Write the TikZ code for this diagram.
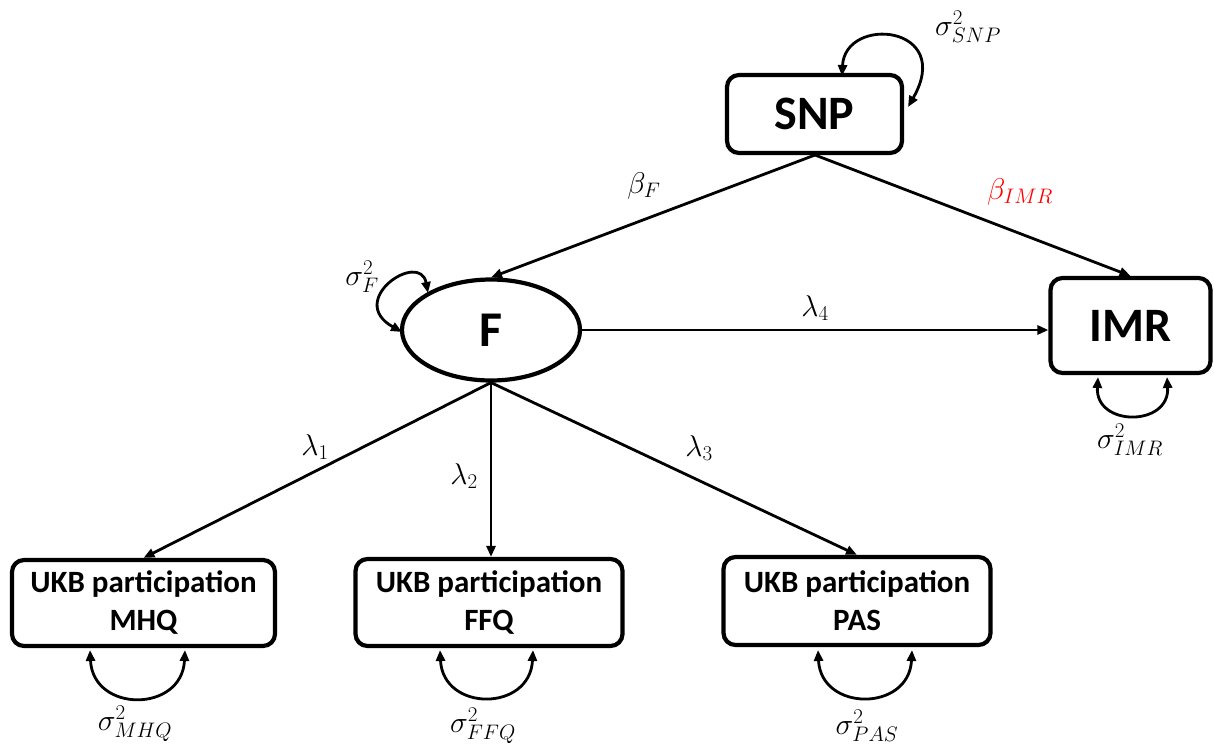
\RequirePackage{fix-cm}
\documentclass[tikz,border=0pt]{standalone}
\usepackage{fontspec}
\setmainfont{Carlito}
\usetikzlibrary{arrows.meta,shapes.geometric}
\tikzset{
  obsbox/.style={draw, line width=4.2pt, rounded corners=12pt, inner sep=0pt, align=center},
  bigtxt/.style={font=\fontsize{48}{56}\selectfont\bfseries},
  smalltxt/.style={font=\fontsize{31}{38}\selectfont\bfseries},
  latent/.style={draw, ellipse, line width=4.2pt, inner sep=0pt, minimum width=178pt, minimum height=101pt, font=\fontsize{50}{56}\selectfont\bfseries},
  path/.style={line width=2.8pt, -{Triangle[length=11pt,width=9pt]}},
  var/.style={line width=2.8pt, {Triangle[length=11pt,width=9pt]}-{Triangle[length=11pt,width=9pt]}},
  lab/.style={font=\fontsize{30}{34}\selectfont, inner sep=0pt}
}
\begin{document}
\begin{tikzpicture}[x=1pt,y=-1pt]
\useasboundingbox (0,0) rectangle (1214,751);
% nodes
\node[obsbox, bigtxt, minimum width=175pt, minimum height=78pt] (snp) at (814.5,114) {SNP};
\node[latent] (f) at (491,330) {F};
\node[obsbox, bigtxt, minimum width=160pt, minimum height=95pt] (imr) at (1130.5,325.5) {IMR};
\node[obsbox, smalltxt, minimum width=263pt, minimum height=86pt] (mhq) at (143.5,603) {UKB participation\\MHQ};
\node[obsbox, smalltxt, minimum width=267pt, minimum height=87pt] (ffq) at (489,602.5) {UKB participation\\FFQ};
\node[obsbox, smalltxt, minimum width=267pt, minimum height=88pt] (pas) at (857,601) {UKB participation\\PAS};
% connectors
\coordinate (snpb) at (815,155);
\draw[path] (snpb) -- (f.north);
\draw[path] (snpb) -- (imr.north);
\draw[path] (f.east |- 0,330) -- (imr.west |- 0,330);
\draw[path] (f.south) -- (mhq.north);
\draw[path] (f.south) -- (ffq.north -| f.south);
\draw[path] (f.south) -- (pas.north);
% variance loops
\coordinate (s1) at (842,76);
\coordinate (s2) at (908,107);
\draw[var] (s1) .. controls (845,15) and (955,25) .. (s2);
\coordinate (f1) at (428,293);
\coordinate (f2) at (402,332);
\draw[var] (f1) .. controls (420,250) and (345,300) .. (f2);
\coordinate (i1) at (1098,377);
\coordinate (i2) at (1167,377);
\draw[var] (i1) .. controls (1095,427) and (1170,427) .. (i2);
\coordinate (m1) at (90,650);
\coordinate (m2) at (185,650);
\draw[var] (m1) .. controls (93,713) and (182,713) .. (m2);
\coordinate (q1) at (440,650);
\coordinate (q2) at (533,650);
\draw[var] (q1) .. controls (443,712) and (530,712) .. (q2);
\coordinate (p1) at (818,650);
\coordinate (p2) at (912,650);
\draw[var] (p1) .. controls (821,712) and (909,712) .. (p2);
% labels
\node[lab] (lbf) at (644,186) {$\beta_F$};
\node[lab, text=red] (lbi) at (1020,192) {$\beta_{IMR}$};
\node[lab] (l4) at (815,308) {$\lambda_4$};
\node[lab] (l1) at (315,447) {$\lambda_1$};
\node[lab] (l2) at (464,476) {$\lambda_2$};
\node[lab] (l3) at (699,448) {$\lambda_3$};
\node[lab] (vs) at (968,27) {$\sigma^2_{SNP}$};
\node[lab] (vf) at (362,277) {$\sigma^2_F$};
\node[lab] (vi) at (1130,440) {$\sigma^2_{IMR}$};
\node[lab] (vm) at (135,724) {$\sigma^2_{MHQ}$};
\node[lab] (vq) at (483,726) {$\sigma^2_{FFQ}$};
\node[lab] (vp) at (867,726) {$\sigma^2_{PAS}$};
\end{tikzpicture}
\end{document}
